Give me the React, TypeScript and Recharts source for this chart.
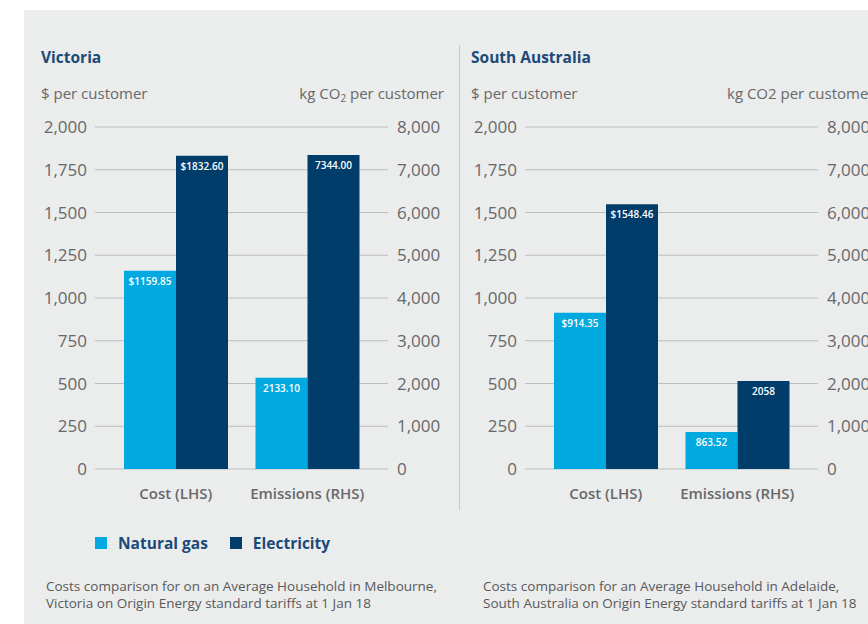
import { BarChart, Bar, XAxis, YAxis, CartesianGrid, LabelList, Legend } from 'recharts'

const categories = ['Cost (LHS)', 'Emissions (RHS)']
const seriesNames = ['Natural gas', 'Electricity']
const costTicks = [0, 250, 500, 750, 1000, 1250, 1500, 1750, 2000]
const emissionTicks = [0, 1000, 2000, 3000, 4000, 5000, 6000, 7000, 8000]

const vicGas = [1159.85, 2133.1]
const vicElec = [1832.6, 7344]
const vicGasLabels = ['$1159.85', '2133.10']
const vicElecLabels = ['$1832.60', '7344.00']

const saGas = [914.35, 863.52]
const saElec = [1548.46, 2058]
const saGasLabels = ['$914.35', '863.52']
const saElecLabels = ['$1548.46', '2058']

const GAS = '#00a9e0'
const ELEC = '#003d6a'
const FONT = '"Open Sans", sans-serif'
const GREY_TEXT = '#67686a'
const TITLE = '#1b4a78'

// cost row goes on the left axis, emissions row on the right axis
function buildRows(gas: number[], elec: number[], gasLabels: string[], elecLabels: string[]) {
  return categories.map((category, i) =>
    i === 0
      ? { category, gasCost: gas[i], elecCost: elec[i], gasCostLabel: gasLabels[i], elecCostLabel: elecLabels[i] }
      : { category, gasEm: gas[i], elecEm: elec[i], gasEmLabel: gasLabels[i], elecEmLabel: elecLabels[i] }
  )
}

const fmt = (v: number) => v.toLocaleString('en-US')

function LegendContent({ payload }: any) {
  const items = (payload || [])
    .filter((p: any) => p.type !== 'none')
    .sort((a: any, b: any) => seriesNames.indexOf(a.value) - seriesNames.indexOf(b.value))
  return (
    <div style={{ display: 'flex', alignItems: 'center', fontFamily: FONT }}>
      {items.map((p: any) => (
        <div key={p.value} style={{ display: 'flex', alignItems: 'center', marginRight: 22 }}>
          <span style={{ width: 12, height: 12, background: p.color, display: 'inline-block', marginRight: 11 }} />
          <span style={{ fontSize: 15.5, fontWeight: 700, color: TITLE }}>{p.value}</span>
        </div>
      ))}
    </div>
  )
}

interface PanelProps {
  left: number
  noteLeft: number
  title: string
  rhsLabel: React.ReactNode
  gas: number[]
  elec: number[]
  gasLabels: string[]
  elecLabels: string[]
  note: string[]
  showLegend?: boolean
}

function Panel({ left, noteLeft, title, rhsLabel, gas, elec, gasLabels, elecLabels, note, showLegend }: PanelProps) {
  const rows = buildRows(gas, elec, gasLabels, elecLabels)
  const labelProps = { position: 'insideTop' as const, offset: 7, fill: '#fff', fontSize: 10, fontWeight: 600, fontFamily: FONT }
  const tickStyle = { fontSize: 17, fill: GREY_TEXT, fontFamily: FONT, fontWeight: 500 }

  return (
    <>
      <div style={{ position: 'absolute', left: left + 1, top: 46, fontSize: 15.5, fontWeight: 700, color: TITLE, fontFamily: FONT }}>
        {title}
      </div>
      <div style={{ position: 'absolute', left: left + 1, top: 83, fontSize: 15, fontWeight: 500, color: GREY_TEXT, fontFamily: FONT }}>
        $ per customer
      </div>
      {rhsLabel}
      <div style={{ position: 'absolute', left: left, top: 110 }}>
        <BarChart
          width={403}
          height={450}
          data={rows}
          margin={{ top: 17, right: 0, bottom: 51, left: 0 }}
          barSize={52}
          barGap={0}
        >
          <CartesianGrid yAxisId="left" vertical={false} stroke="#bdbebf" strokeWidth={1} />
          <XAxis
            dataKey="category"
            axisLine={false}
            tickLine={false}
            interval={0}
            tickMargin={13}
            height={40}
            padding={{ left: 15, right: 15 }}
            tick={{ fontSize: 15, fill: GREY_TEXT, fontFamily: FONT, fontWeight: 600 }}
          />
          <YAxis
            yAxisId="left"
            domain={[0, 2000]}
            ticks={costTicks}
            interval={0}
            width={55}
            axisLine={false}
            tickLine={false}
            tickMargin={2}
            tickFormatter={fmt}
            tick={tickStyle}
          />
          <YAxis
            yAxisId="right"
            orientation="right"
            domain={[0, 8000]}
            ticks={emissionTicks}
            interval={0}
            width={55}
            axisLine={false}
            tickLine={false}
            tickMargin={3}
            tickFormatter={fmt}
            tick={tickStyle}
          />
          <Bar yAxisId="left" dataKey="gasCost" name={seriesNames[0]} stackId="gas" fill={GAS} isAnimationActive={false}>
            <LabelList dataKey="gasCostLabel" {...labelProps} />
          </Bar>
          <Bar yAxisId="left" dataKey="elecCost" name={seriesNames[1]} stackId="elec" fill={ELEC} isAnimationActive={false}>
            <LabelList dataKey="elecCostLabel" {...labelProps} />
          </Bar>
          <Bar yAxisId="right" dataKey="gasEm" name="Natural gas em" legendType="none" stackId="gas" fill={GAS} isAnimationActive={false}>
            <LabelList dataKey="gasEmLabel" {...labelProps} />
          </Bar>
          <Bar yAxisId="right" dataKey="elecEm" name="Electricity em" legendType="none" stackId="elec" fill={ELEC} isAnimationActive={false}>
            <LabelList dataKey="elecEmLabel" {...labelProps} />
          </Bar>
          {showLegend && (
            <Legend
              layout="horizontal"
              verticalAlign="middle"
              align="center"
              wrapperStyle={{ top: 422, left: 55, width: 300 }}
              content={<LegendContent />}
            />
          )}
        </BarChart>
      </div>
      <div
        style={{
          position: 'absolute',
          left: noteLeft,
          top: 578,
          fontSize: 13.5,
          lineHeight: '17px',
          color: '#58595b',
          fontFamily: FONT,
          whiteSpace: 'nowrap',
        }}
      >
        {note.map((line) => (
          <div key={line}>{line}</div>
        ))}
      </div>
    </>
  )
}

export default function App() {
  return (
    <div style={{ position: 'absolute', left: 0, top: 0, width: 868, height: 624, overflow: 'hidden', background: '#fff' }}>
      <div style={{ position: 'absolute', left: 24, top: 10, width: 844, height: 614, background: '#ebecec' }} />
      <div style={{ position: 'absolute', left: 459, top: 45, width: 1, height: 465, background: '#c8c9ca' }} />
      <Panel
        left={40}
        noteLeft={46}
        title="Victoria"
        rhsLabel={
          <div style={{ position: 'absolute', right: 868 - 444, top: 83, fontSize: 15, fontWeight: 500, color: GREY_TEXT, fontFamily: FONT, whiteSpace: 'nowrap' }}>
            kg CO<sub style={{ fontSize: 10, verticalAlign: '-3px' }}>2</sub> per customer
          </div>
        }
        gas={vicGas}
        elec={vicElec}
        gasLabels={vicGasLabels}
        elecLabels={vicElecLabels}
        note={['Costs comparison for on an Average Household in Melbourne,', 'Victoria on Origin Energy standard tariffs at 1 Jan 18']}
        showLegend
      />
      <Panel
        left={470}
        noteLeft={483}
        title="South Australia"
        rhsLabel={
          <div style={{ position: 'absolute', left: 727, top: 83, fontSize: 15, fontWeight: 500, color: GREY_TEXT, fontFamily: FONT, whiteSpace: 'nowrap' }}>
            kg CO2 per customer
          </div>
        }
        gas={saGas}
        elec={saElec}
        gasLabels={saGasLabels}
        elecLabels={saElecLabels}
        note={['Costs comparison for an Average Household in Adelaide,', 'South Australia on Origin Energy standard tariffs at 1 Jan 18']}
      />
    </div>
  )
}
